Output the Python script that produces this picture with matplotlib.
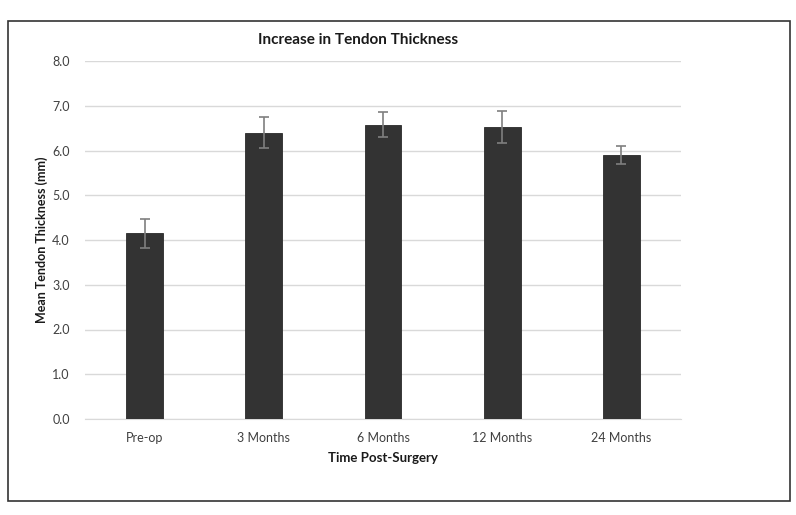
import matplotlib
matplotlib.use("Agg")
import matplotlib.pyplot as plt
from matplotlib.patches import Rectangle

categories = ["Pre-op", "3 Months", "6 Months", "12 Months", "24 Months"]
means = [4.15, 6.40, 6.58, 6.52, 5.90]
errors = [0.33, 0.34, 0.28, 0.36, 0.21]
yticks = [0.0, 1.0, 2.0, 3.0, 4.0, 5.0, 6.0, 7.0, 8.0]

plt.rcParams['font.family'] = ['Lato', 'DejaVu Sans']

W, H = 796, 515
fig = plt.figure(figsize=(W/100, H/100), dpi=100)
fig.patch.set_facecolor("white")

# outer border
fig.patches.append(Rectangle((8/W, 1-501/H), (790-8)/W, (501-21)/H,
                             transform=fig.transFigure, fill=False,
                             edgecolor="#333333", linewidth=1.2))

ax = fig.add_axes([85/W, 1-419/H, (681-85)/W, (419-61)/H])
x = range(len(categories))
ax.bar(x, means, width=0.31, color="#333333", edgecolor="#2a2a2a", linewidth=0.6, zorder=3,
       yerr=errors, error_kw=dict(ecolor="#7f7f7f", elinewidth=1.2, capsize=3.5, capthick=1.2, zorder=4))
ax.set_xlim(-0.5, len(categories)-0.5)
ax.set_ylim(0, 8)
ax.set_yticks(yticks)
ax.set_yticklabels([f"{v:.1f}" for v in yticks], fontsize=9, color="#404040")
ax.set_xticks(list(x))
ax.set_xticklabels(categories, fontsize=9, color="#404040")
ax.grid(axis="y", color="#d9d9d9", linewidth=1, zorder=0)
for s in ["top", "right", "left"]:
    ax.spines[s].set_visible(False)
ax.spines["bottom"].set_color("#d9d9d9")
ax.tick_params(axis="y", length=0, pad=11)
ax.tick_params(axis="x", length=0, pad=9)
ax.set_ylabel("Mean Tendon Thickness (mm)", fontsize=9, fontweight="bold", color="#1a1a1a", labelpad=3)
ax.set_xlabel("Time Post-Surgery", fontsize=9.5, fontweight="bold", color="#1a1a1a", labelpad=6)
fig.text(358/W, 1-40/H, "Increase in Tendon Thickness", ha="center", va="center",
         fontsize=11, fontweight="bold", color="#1a1a1a")

fig.savefig("out.png", dpi=100)
